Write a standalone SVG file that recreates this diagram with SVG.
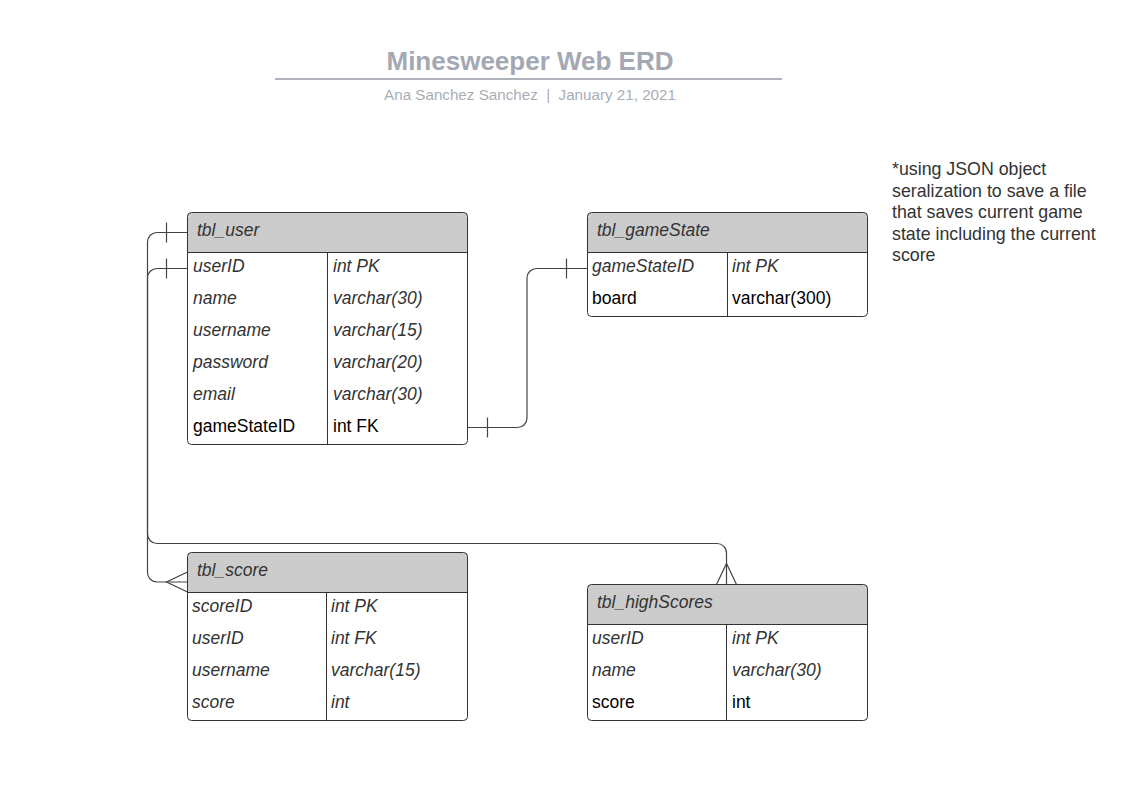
<svg xmlns="http://www.w3.org/2000/svg" width="1147" height="785" viewBox="0 0 1147 785">
<style>
.bg{fill:#fff;stroke:none}
.hdr{fill:#cccccc;stroke:none}
.out{fill:none;stroke:#333;stroke-width:1}
.ln{fill:none;stroke:#333;stroke-width:1}
.c{fill:none;stroke:#444;stroke-width:1.2}
.t{font-family:"Liberation Sans",Arial,sans-serif;font-size:17.5px;fill:#333}
.i{font-style:italic}
.k{fill:#000}
.title{font-family:"Liberation Sans",Arial,sans-serif;font-size:26px;font-weight:bold;fill:#a3a8b3}
.sub{font-family:"Liberation Sans",Arial,sans-serif;font-size:15.2px;fill:#a9adb7;white-space:pre}
.note{font-family:"Liberation Sans",Arial,sans-serif;font-size:17.8px;fill:#333}
</style>
<rect x="0" y="0" width="1147" height="785" fill="#fff"/>

<g id="title">
<text class="title" x="530" y="70" text-anchor="middle">Minesweeper Web ERD</text>
<line x1="275" y1="79" x2="782" y2="79" stroke="#aeb2ba" stroke-width="2"/>
<text class="sub" x="530" y="100" text-anchor="middle">Ana Sanchez Sanchez  |  January 21, 2021</text>
</g>

<g id="note">
<text class="note" x="892" y="175">*using JSON object</text>
<text class="note" x="892" y="196.5">seralization to save a file</text>
<text class="note" x="892" y="218">that saves current game</text>
<text class="note" x="892" y="239.5">state including the current</text>
<text class="note" x="892" y="261">score</text>
</g>

<g id="connectors">
<path class="c" d="M187.5,232.5 H157 A9.5,9.5 0 0 0 147.5,242 V572.5 A9.5,9.5 0 0 0 157,582 H187.5"/>
<line class="c" x1="166.5" y1="222.5" x2="166.5" y2="242.5"/>
<path class="c" d="M187.5,572 L166.5,582 L187.5,592"/>
<path class="c" d="M187.5,268.5 H157 A9.5,9.5 0 0 0 147.5,278 V534 A9.5,9.5 0 0 0 157,543.5 H716.5 A9.5,9.5 0 0 1 726.5,553 V584.5"/>
<line class="c" x1="166.5" y1="258.5" x2="166.5" y2="278.5"/>
<path class="c" d="M716.5,584.5 L726.5,563.5 L736.5,584.5"/>
<path class="c" d="M467.5,427.5 H517.5 A9.5,9.5 0 0 0 527,418 V278 A9.5,9.5 0 0 1 536.5,268.5 H587.5"/>
<line class="c" x1="487.5" y1="417.5" x2="487.5" y2="437.5"/>
<line class="c" x1="566.5" y1="258.5" x2="566.5" y2="278.5"/>
</g>

<g id="tbl_user">
<rect class="bg" x="187.5" y="212.5" width="280" height="232" rx="4"/>
<path class="hdr" d="M187.5,252.5 V216.5 A4,4 0 0 1 191.5,212.5 H463.5 A4,4 0 0 1 467.5,216.5 V252.5 Z"/>
<rect class="out" x="187.5" y="212.5" width="280" height="232" rx="4"/>
<line class="ln" x1="187.5" y1="252.5" x2="467.5" y2="252.5"/>
<line class="ln" x1="327.5" y1="252.5" x2="327.5" y2="444.5"/>
<text class="t i" x="197" y="236">tbl_user</text>
<text class="t i" x="193" y="272">userID</text><text class="t i" x="333" y="272">int PK</text>
<text class="t i" x="193" y="304">name</text><text class="t i" x="333" y="304">varchar(30)</text>
<text class="t i" x="193" y="336">username</text><text class="t i" x="333" y="336">varchar(15)</text>
<text class="t i" x="193" y="368">password</text><text class="t i" x="333" y="368">varchar(20)</text>
<text class="t i" x="193" y="400">email</text><text class="t i" x="333" y="400">varchar(30)</text>
<text class="t k" x="193" y="432">gameStateID</text><text class="t k" x="333" y="432">int FK</text>
</g>

<g id="tbl_gameState">
<rect class="bg" x="587.5" y="212.5" width="280" height="104" rx="4"/>
<path class="hdr" d="M587.5,252.5 V216.5 A4,4 0 0 1 591.5,212.5 H863.5 A4,4 0 0 1 867.5,216.5 V252.5 Z"/>
<rect class="out" x="587.5" y="212.5" width="280" height="104" rx="4"/>
<line class="ln" x1="587.5" y1="252.5" x2="867.5" y2="252.5"/>
<line class="ln" x1="727.5" y1="252.5" x2="727.5" y2="316.5"/>
<text class="t i" x="597" y="236">tbl_gameState</text>
<text class="t i" x="592" y="272">gameStateID</text><text class="t i" x="732" y="272">int PK</text>
<text class="t k" x="592" y="304">board</text><text class="t k" x="732" y="304">varchar(300)</text>
</g>

<g id="tbl_score">
<rect class="bg" x="187.5" y="552.5" width="280" height="168" rx="4"/>
<path class="hdr" d="M187.5,592.5 V556.5 A4,4 0 0 1 191.5,552.5 H463.5 A4,4 0 0 1 467.5,556.5 V592.5 Z"/>
<rect class="out" x="187.5" y="552.5" width="280" height="168" rx="4"/>
<line class="ln" x1="187.5" y1="592.5" x2="467.5" y2="592.5"/>
<line class="ln" x1="326.5" y1="592.5" x2="326.5" y2="720.5"/>
<text class="t i" x="197" y="576">tbl_score</text>
<text class="t i" x="192" y="612">scoreID</text><text class="t i" x="331" y="612">int PK</text>
<text class="t i" x="192" y="644">userID</text><text class="t i" x="331" y="644">int FK</text>
<text class="t i" x="192" y="676">username</text><text class="t i" x="331" y="676">varchar(15)</text>
<text class="t i" x="192" y="708">score</text><text class="t i" x="331" y="708">int</text>
</g>

<g id="tbl_highScores">
<rect class="bg" x="587.5" y="584.5" width="280" height="136" rx="4"/>
<path class="hdr" d="M587.5,624.5 V588.5 A4,4 0 0 1 591.5,584.5 H863.5 A4,4 0 0 1 867.5,588.5 V624.5 Z"/>
<rect class="out" x="587.5" y="584.5" width="280" height="136" rx="4"/>
<line class="ln" x1="587.5" y1="624.5" x2="867.5" y2="624.5"/>
<line class="ln" x1="726.5" y1="624.5" x2="726.5" y2="720.5"/>
<text class="t i" x="597" y="608">tbl_highScores</text>
<text class="t i" x="592" y="644">userID</text><text class="t i" x="732" y="644">int PK</text>
<text class="t i" x="592" y="676">name</text><text class="t i" x="732" y="676">varchar(30)</text>
<text class="t k" x="592" y="708">score</text><text class="t k" x="732" y="708">int</text>
</g>
</svg>
